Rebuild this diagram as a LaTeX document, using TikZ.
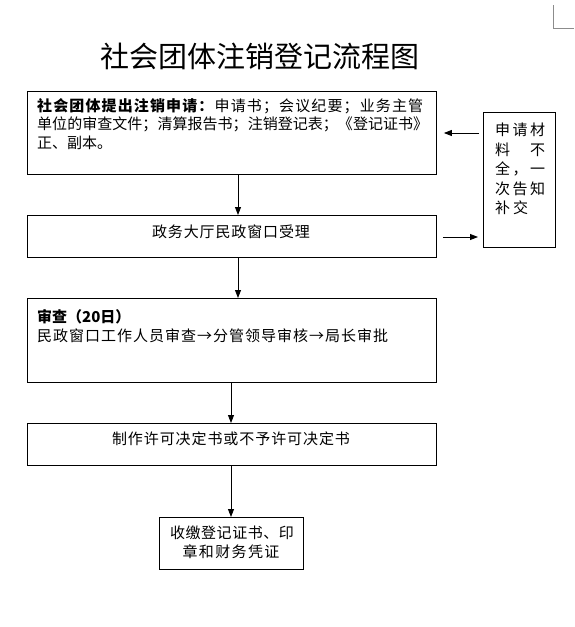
\documentclass[tikz,border=0pt]{standalone}
\usepackage{fontspec}
\setmainfont{Noto Sans CJK SC}
\usetikzlibrary{arrows.meta}
\def\spr#1{\sprA#1\relax}
\def\sprA#1#2{#1\ifx#2\relax\else\hfil\expandafter\sprA\expandafter#2\fi}
\newcommand\sline[2]{\makebox[#1][s]{#2}}
\begin{document}
\begin{tikzpicture}[x=1pt,y=-1pt,
  box/.style={draw, line width=0.9pt, inner sep=0pt, anchor=north west},
  arr/.style={line width=0.9pt, -{Triangle[length=8pt,width=6pt]}},
  txt/.style={inner sep=0pt, font=\fontsize{15}{19}\selectfont}]
\useasboundingbox (0,0) rectangle (574,627);
\fill[white] (0,0) rectangle (574,627);
% page corner mark
\draw[black!45, line width=0.8pt] (553,5) -- (553,28) -- (574,28);
% title
\node[inner sep=0pt, font=\fontsize{29}{34}\selectfont] (title) at (259,56) {\sline{318pt}{\spr{社会团体注销登记流程图}}};
% boxes
\node[box, minimum width=409pt, minimum height=83pt] (b1) at (27,91) {};
\node[box, minimum width=409pt, minimum height=42pt] (b2) at (27,215) {};
\node[box, minimum width=409pt, minimum height=84pt] (b3) at (27,298) {};
\node[box, minimum width=409pt, minimum height=42pt] (b4) at (27,423) {};
\node[box, minimum width=144pt, minimum height=52pt] (b5) at (159,517) {};
\node[box, minimum width=72pt, minimum height=135pt] (r) at (483,112) {};
% texts
\node[txt, anchor=west] (t1a) at (37,106) {\sline{386pt}{{\bfseries\spr{社会团体提出注销申请：}}\hfil\spr{申请书；会议纪要；业务主管}}};
\node[txt, anchor=west] (t1b) at (37,124.5) {\sline{391pt}{\spr{单位的审查文件；清算报告书；注销登记表；《登记证书》}}};
\node[txt, anchor=west] (t1c) at (37,143) {正、副本。};
\node[txt] (t2) at (231,232) {\sline{158pt}{\spr{政务大厅民政窗口受理}}};
\node[txt, anchor=west] (t3a) at (37,317) {\bfseries 审查（20日）};
\node[txt, anchor=west] (t3b) at (37,336) {\sline{351pt}{\spr{民政窗口工作人员审查→分管领导审核→局长审批}}};
\node[txt] (t4) at (231,439) {\sline{238pt}{\spr{制作许可决定书或不予许可决定书}}};
\node[txt] (t5a) at (232,533) {\sline{124pt}{\spr{收缴登记证书、印}}};
\node[txt] (t5b) at (231,552) {\sline{97pt}{\spr{章和财务凭证}}};
\node[txt, anchor=west] (r1) at (495,130) {\sline{50pt}{\spr{申请材}}};
\node[txt, anchor=west] (r2) at (495,149.5) {\sline{50pt}{料\hfil 不}};
\node[txt, anchor=west] (r3) at (495,169) {\sline{50pt}{\spr{全，一}}};
\node[txt, anchor=west] (r4) at (495,188.5) {\sline{50pt}{\spr{次告知}}};
\node[txt, anchor=west] (r5) at (495,208) {\sline{33pt}{\spr{补交}}};
% connectors
\coordinate (xa) at (238,0);
\coordinate (xb) at (231,0);
\coordinate (ya) at (0,133);
\coordinate (yb) at (0,237);
\draw[arr] (b1.south -| xa) -- (b2.north -| xa);
\draw[arr] (b2.south -| xa) -- (b3.north -| xa);
\draw[arr] (b3.south -| xb) -- (b4.north -| xb);
\draw[arr] (b4.south -| xb) -- (b5.north -| xb);
\draw[arr, shorten <=4pt, shorten >=7pt] (r.west |- ya) -- (b1.east |- ya);
\draw[arr, shorten <=6pt, shorten >=5pt] (b2.east |- yb) -- (r.west |- yb);
\end{tikzpicture}
\end{document}
